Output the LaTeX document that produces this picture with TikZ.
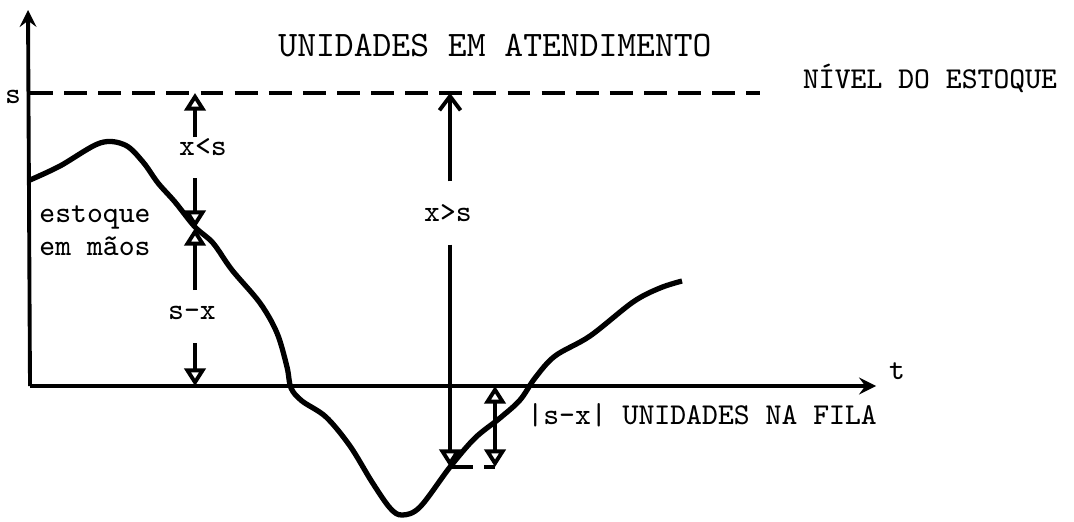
\documentclass[tikz,border=0pt]{standalone}
\usepackage{fontspec}
\usetikzlibrary{arrows.meta}
\tikzset{
  lbl/.style={font=\ttfamily\fontsize{8.6}{9.4}\selectfont, inner sep=1pt},
  titlelbl/.style={font=\ttfamily\fontsize{10.2}{12}\selectfont, inner sep=1pt},
  hollow/.style={-{Triangle[open,length=5pt,width=6pt]}},
  level/.style={dash pattern=on 6.5pt off 3.2pt},
}

\begin{document}
\begin{tikzpicture}[>=stealth, x=0.01cm, y=-0.01cm, line width=1.1pt]
  \useasboundingbox (0,0) rectangle (1074,521);
  \coordinate (O) at (30,386);
  \coordinate (ytip) at (28,10);
  \coordinate (xtip) at (876,386);
  \draw[->] (O) -- (ytip);
  \draw[->] (O) -- (xtip);
  \node[lbl] (t) at (897,371) {t};
  \coordinate (s0) at (30,93);
  \coordinate (s1) at (760,93);
  \draw[level] (s0) -- (s1);
  \node[lbl] (s) at (13,97) {s};
  \node[titlelbl] (att) at (495,46) {UNIDADES EM ATENDIMENTO};
  \node[lbl] (nivel) at (930,78) {NÍVEL DO ESTOQUE};
  \draw[line width=1.5pt] plot[smooth, tension=0.55] coordinates {
    (30,180) (60,166) (100,143) (125,145) (143,162) (158,183) (175,202)
    (195,227) (213,243) (232,270) (260,303) (277,333) (287,367) (291,388)
    (302,401) (326,417) (350,446) (372,482) (390,508) (402,515) (420,507)
    (450,467) (475,438) (500,418) (520,400) (535,378) (555,356) (590,336)
    (633,302) (660,288) (682,281)};
  \node[lbl, align=center] (hand) at (95,231) {estoque\\em mãos};
  \coordinate (c1) at (195,228);
  \node[lbl] (lt) at (203,147) {x<s};
  \coordinate (p1) at (195,137);
  \coordinate (p2) at (195,178);
  \draw[hollow] (p1) -- (p1 |- s0);
  \draw[hollow] (p2) -- (c1);
  \node[lbl] (sx) at (192,313) {s-x};
  \coordinate (p3) at (195,290);
  \coordinate (p4) at (195,343);
  \draw[hollow] (p3) -- (c1);
  \draw[hollow] (p4) -- (p4 |- O);
  \coordinate (c2) at (450,467);
  \coordinate (c3) at (495,467);
  \node[lbl, inner sep=6pt] (gt) at (448,213) {x>s};
  \draw[-{Straight Barb[length=4pt,width=6pt]}] (gt.north -| c2) -- (c2 |- s0);
  \draw[hollow] (gt.south -| c2) -- (c2);
  \draw[{Triangle[open,length=5pt,width=6pt]}-{Triangle[open,length=5pt,width=6pt]}] (c3 |- O) -- (c3);
  \draw[level] (c2) -- (c3);
  \node[lbl, anchor=west] (fila) at (522,415) {|s-x| UNIDADES NA FILA};
\end{tikzpicture}
\end{document}
